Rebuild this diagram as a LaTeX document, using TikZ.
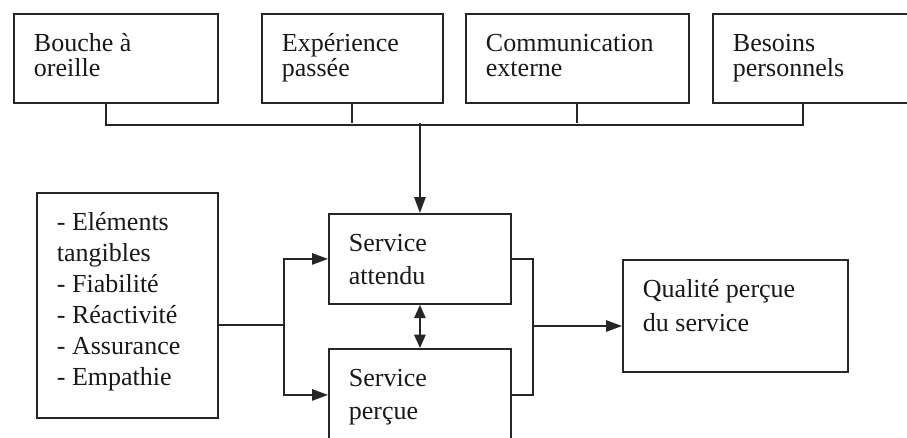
\documentclass[tikz,border=0pt]{standalone}
\usepackage{fontspec}
\setmainfont{Liberation Serif}
\usetikzlibrary{calc,arrows.meta,positioning}
\tikzstyle{boite}=[draw=black!85,line width=1.4pt,anchor=north west,align=flush left,inner xsep=15pt,inner ysep=0pt,text height=28.5pt,text=black!90]
\tikzstyle{lien}=[draw=black!85,line width=1.4pt]
\tikzstyle{fleche}=[lien,-{Triangle[length=12pt,width=8.5pt]}]
\tikzstyle{fleche2}=[lien,{Triangle[length=10pt,width=8.5pt]}-{Triangle[length=10pt,width=8.5pt]}]

\begin{document}
\begin{tikzpicture}[x=0.75pt,y=-0.75pt]
  \useasboundingbox (0,0) rectangle (907,437);
  \clip (0,0) rectangle (907,437);
  \fill[white] (0,0) rectangle (907,437);

  %% facteurs du haut
  \tikzstyle{every node}=[font=\fontsize{19.5pt}{18.75pt}\selectfont]
  \node[boite,text width=123pt,text depth=38.25pt] (bouche) at (13,13) {Bouche à\\oreille};
  \node[boite,text width=105.75pt,text depth=38.25pt] (exp) at (261,13) {Expérience\\passée};
  \node[boite,text width=137.25pt,text depth=38.25pt] (comm) at (465,13) {Communication\\externe};
  \node[boite,text width=120pt,text depth=38.25pt] (besoins) at (712,13) {Besoins\\personnels};

  %% dimensions
  \tikzstyle{every node}=[font=\fontsize{19.5pt}{23.25pt}\selectfont]
  \node[boite,text width=105.75pt,text depth=140.25pt] (dim) at (36,192)
    {- Eléments\\tangibles\\- Fiabilité\\- Réactivité\\- Assurance\\- Empathie};

  %% service
  \tikzstyle{every node}=[font=\fontsize{19.5pt}{24.75pt}\selectfont]
  \node[boite,text width=106.5pt,text depth=39pt] (attendu) at (328,213) {Service\\attendu};
  \node[boite,text width=106.5pt,text depth=40.5pt] (percu) at (328,348) {Service\\perçue};

  \tikzstyle{every node}=[font=\fontsize{19.5pt}{25.5pt}\selectfont]
  \node[boite,text width=138.75pt,text depth=55.5pt] (qualite) at (622,259) {Qualité perçue\\du service};

  % liaisons du haut
  \coordinate (s1) at ($(bouche.south west)+(93,0)$);
  \coordinate (s2) at ($(exp.south west)+(91,0)$);
  \coordinate (s3) at ($(comm.south west)+(112,0)$);
  \coordinate (s4) at ($(besoins.south west)+(91,0)$);
  \coordinate (bus) at (attendu.north |- 0,123);
  \path[lien] (s1) -- ++(0,21) -| (s4);
  \path[lien] (s2) -- (s2 |- bus);
  \path[lien] (s3) -- (s3 |- bus);
  \path[fleche] (bus) -- (attendu.north);

  % dimensions vers service
  \coordinate (j) at (284,325);
  \path[lien] (dim.east |- j) -- (j);
  \path[fleche] (j) |- (attendu.west);
  \path[fleche] (j) |- (percu.west);
  \path[fleche2] (attendu.south) -- (percu.north);

  % vers qualite
  \coordinate (k) at (533,326);
  \path[lien] (attendu.east) -| (k) |- (percu.east);
  \path[fleche] (k) -- (k -| qualite.west);
\end{tikzpicture}
\end{document}
